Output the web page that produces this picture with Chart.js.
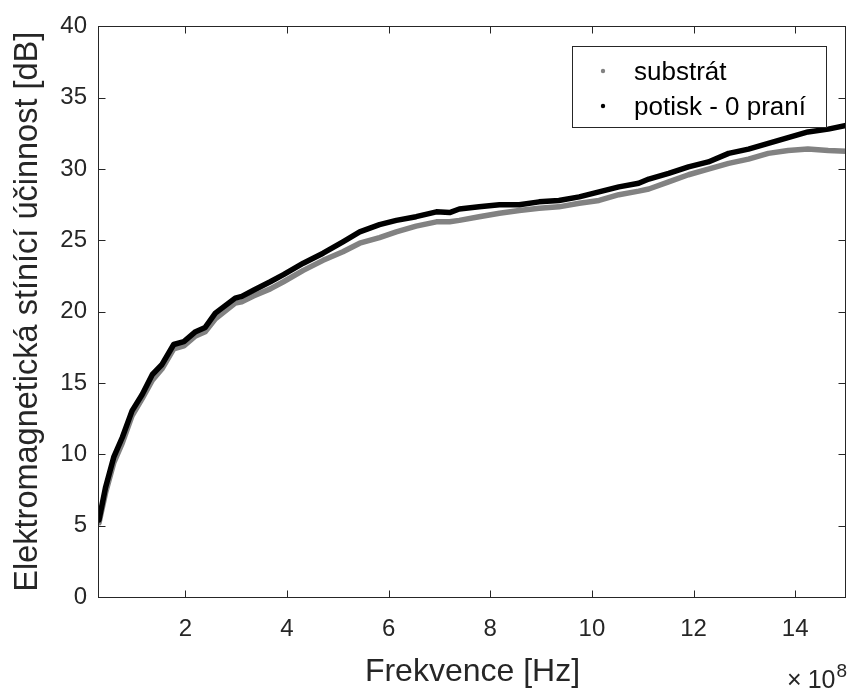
<!DOCTYPE html>
<html>
<head>
<meta charset="utf-8">
<script src="https://cdn.jsdelivr.net/npm/chart.js@4.4.1/dist/chart.umd.min.js"></script>
<style>
  html, body { margin: 0; padding: 0; background: #fff; }
  #c { display: block; }
</style>
</head>
<body>
<canvas id="c" width="851" height="691"></canvas>
<script>
// Frequency in units of 1e8 Hz
const freq = [0.30,0.43,0.59,0.76,0.95,1.15,1.35,1.54,1.77,1.97,2.20,2.39,2.59,2.98,3.11,3.34,3.67,3.93,4.32,4.71,5.10,5.43,5.82,6.15,6.54,6.94,7.20,7.39,7.78,8.18,8.57,8.96,9.35,9.75,10.14,10.53,10.92,11.12,11.51,11.90,12.29,12.69,13.08,13.47,13.86,14.25,14.65,15.00];
const substrat = [5.2,7.3,9.4,10.8,12.7,13.9,15.2,16.0,17.4,17.6,18.3,18.6,19.5,20.6,20.7,21.1,21.6,22.1,22.9,23.6,24.2,24.8,25.2,25.6,26.0,26.3,26.3,26.4,26.66,26.9,27.1,27.25,27.35,27.6,27.8,28.2,28.45,28.6,29.1,29.6,30.0,30.4,30.7,31.1,31.3,31.4,31.3,31.25];
const potisk = [5.4,7.7,9.8,11.2,13.05,14.2,15.6,16.3,17.7,17.9,18.6,18.9,19.9,20.95,21.07,21.5,22.1,22.6,23.4,24.1,24.9,25.6,26.1,26.4,26.66,27.0,26.95,27.2,27.35,27.5,27.5,27.7,27.8,28.05,28.4,28.75,29.0,29.3,29.7,30.15,30.5,31.1,31.4,31.8,32.2,32.6,32.8,33.05];
const xTicks = [2,4,6,8,10,12,14];
const yTicks = [0,5,10,15,20,25,30,35,40];
const seriesLabels = ['substrát','potisk - 0 praní'];
const xTitle = 'Frekvence [Hz]';
const yTitle = 'Elektromagnetická stínící účinnost [dB]';
const xExponent = '8';

const AX = '#262626';
const FONT = "'Liberation Sans', Arial, sans-serif";

const toPts = (arr) => freq.map((f, i) => ({x: f, y: arr[i]}));

const framePlugin = {
  id: 'frame',
  afterDraw(chart) {
    const {ctx, chartArea: a, scales: {x, y}} = chart;
    const L = Math.round(a.left) - 0.5, R = Math.round(a.right) - 0.5;
    const T = Math.round(a.top) + 0.5, B = Math.round(a.bottom) + 0.5;
    ctx.save();
    ctx.strokeStyle = AX;
    ctx.lineWidth = 1;
    ctx.strokeRect(L, T, R - L, B - T);
    const tl = 7;
    ctx.beginPath();
    xTicks.forEach(v => {
      const px = Math.round(x.getPixelForValue(v)) + 0.5;
      ctx.moveTo(px, B); ctx.lineTo(px, B - tl);
      ctx.moveTo(px, T); ctx.lineTo(px, T + tl);
    });
    yTicks.forEach(v => {
      const py = Math.round(y.getPixelForValue(v)) + 0.5;
      ctx.moveTo(L, py); ctx.lineTo(L + tl, py);
      ctx.moveTo(R, py); ctx.lineTo(R - tl, py);
    });
    ctx.stroke();

    // exponent label  × 10^8
    ctx.fillStyle = AX;
    ctx.textBaseline = 'alphabetic';
    ctx.textAlign = 'left';
    ctx.font = '19px ' + FONT;
    const supW = ctx.measureText(xExponent).width;
    ctx.font = '25px ' + FONT;
    const tenW = ctx.measureText('10').width;
    const timesW = ctx.measureText('\u00D7').width;
    const rightEdge = 846;
    const tenX = rightEdge - supW - tenW;
    const timesX = tenX - 6 - timesW;
    ctx.fillText('\u00D7', timesX, 688);
    ctx.fillText('10', tenX, 688);
    ctx.font = '19px ' + FONT;
    ctx.fillText(xExponent, tenX + tenW + 1, 677);

    // legend
    const lx = 572.5, ly = 46.5, lw = 254, lh = 81;
    ctx.fillStyle = '#fff';
    ctx.fillRect(lx, ly, lw, lh);
    ctx.strokeStyle = AX;
    ctx.strokeRect(lx, ly, lw, lh);
    const rows = [
      {label: chart.data.datasets[0].label, color: chart.data.datasets[0].borderColor, y: 73},
      {label: chart.data.datasets[1].label, color: chart.data.datasets[1].borderColor, y: 108}
    ];
    ctx.font = '26px ' + FONT;
    ctx.textBaseline = 'middle';
    rows.forEach(r => {
      ctx.fillStyle = r.color;
      ctx.beginPath();
      ctx.arc(603, r.y - 2, 2.2, 0, Math.PI * 2);
      ctx.fill();
      ctx.fillStyle = '#000';
      ctx.fillText(r.label, 634, r.y);
    });
    ctx.restore();
  }
};

new Chart(document.getElementById('c'), {
  type: 'line',
  data: {
    datasets: [
      {
        label: seriesLabels[0],
        data: toPts(substrat),
        borderColor: '#828282',
        backgroundColor: '#828282',
        borderWidth: 5.5,
        pointRadius: 0,
        tension: 0,
        borderJoinStyle: 'round',
        borderCapStyle: 'round',
        order: 1
      },
      {
        label: seriesLabels[1],
        data: toPts(potisk),
        borderColor: '#000000',
        backgroundColor: '#000000',
        borderWidth: 5.5,
        pointRadius: 0,
        tension: 0,
        borderJoinStyle: 'round',
        borderCapStyle: 'round',
        order: 0
      }
    ]
  },
  options: {
    responsive: false,
    animation: false,
    devicePixelRatio: 1,
    layout: { padding: { left: 0, right: 5, top: 24, bottom: 0 } },
    plugins: {
      legend: { display: false },
      tooltip: { enabled: false }
    },
    scales: {
      x: {
        type: 'linear',
        min: 0.3,
        max: 15,
        afterBuildTicks: (s) => { s.ticks = xTicks.map(v => ({value: v})); },
        afterFit: (s) => { s.height = 94; },
        grid: { display: false, drawTicks: false },
        border: { display: false },
        ticks: {
          color: AX,
          font: { family: FONT, size: 24 },
          padding: 18,
          maxRotation: 0,
          callback: (v) => String(v)
        },
        title: {
          display: true,
          text: xTitle,
          color: AX,
          font: { family: FONT, size: 32 },
          padding: { top: 0, bottom: 0 }
        }
      },
      y: {
        type: 'linear',
        min: 0,
        max: 40,
        afterBuildTicks: (s) => { s.ticks = yTicks.map(v => ({value: v})); },
        afterFit: (s) => { s.width = 99; },
        grid: { display: false, drawTicks: false },
        border: { display: false },
        ticks: {
          color: AX,
          font: { family: FONT, size: 24 },
          padding: 12,
          callback: (v) => String(v)
        },
        title: {
          display: true,
          text: yTitle,
          color: AX,
          font: { family: FONT, size: 32.5 },
          padding: { top: 9, bottom: 0 }
        }
      }
    }
  },
  plugins: [framePlugin]
});
</script>
</body>
</html>
